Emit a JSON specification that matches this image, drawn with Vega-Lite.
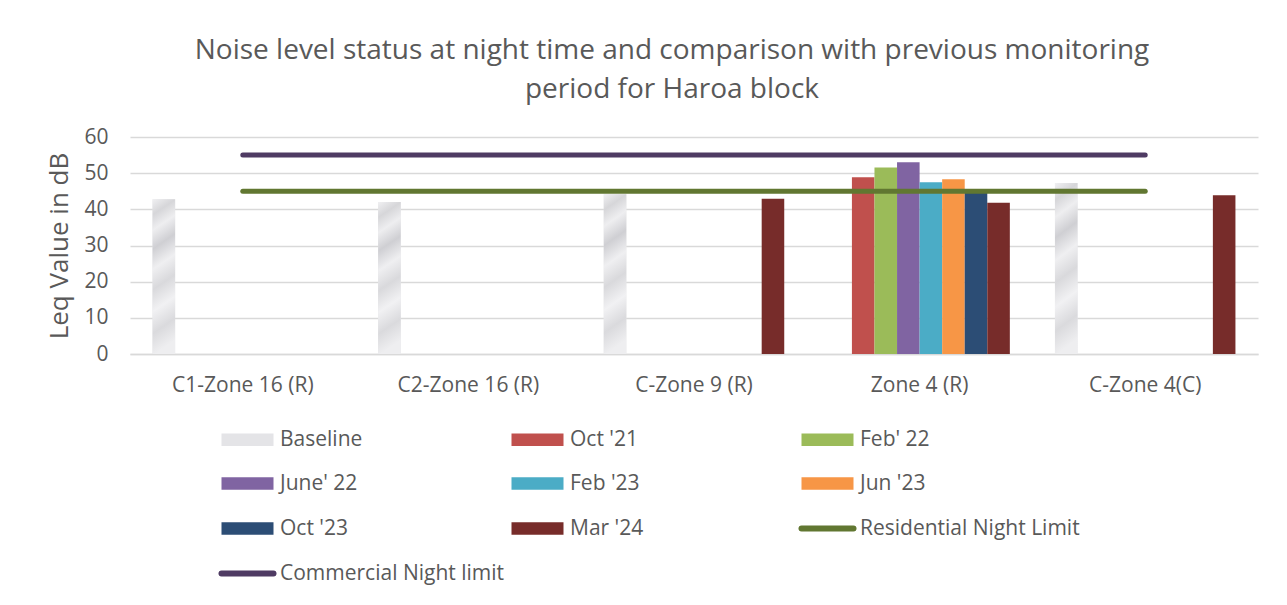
{
  "$schema": "https://vega.github.io/schema/vega-lite/v6.json",
  "width": 1128,
  "height": 217,
  "autosize": "none",
  "padding": {"left": 130, "top": 137, "right": 29, "bottom": 251},
  "background": "white",
  "title": {
    "text": ["Noise level status at night time and comparison with previous monitoring", "period for Haroa block"],
    "fontSize": 28,
    "font": "Open Sans",
    "fontWeight": "normal",
    "color": "#595959",
    "anchor": "middle",
    "dx": -22,
    "offset": 22,
    "lineHeight": 39
  },
  "datasets": {
    "bars": [
      {"site": "C1-Zone 16 (R)", "period": "Baseline", "leq": 42.8},
      {"site": "C2-Zone 16 (R)", "period": "Baseline", "leq": 42.0},
      {"site": "C-Zone 9 (R)", "period": "Baseline", "leq": 44.2},
      {"site": "C-Zone 9 (R)", "period": "Mar '24", "leq": 42.9},
      {"site": "Zone 4 (R)", "period": "Oct '21", "leq": 48.9},
      {"site": "Zone 4 (R)", "period": "Feb' 22", "leq": 51.6},
      {"site": "Zone 4 (R)", "period": "June' 22", "leq": 53.0},
      {"site": "Zone 4 (R)", "period": "Feb '23", "leq": 47.5},
      {"site": "Zone 4 (R)", "period": "Jun '23", "leq": 48.3},
      {"site": "Zone 4 (R)", "period": "Oct '23", "leq": 45.2},
      {"site": "Zone 4 (R)", "period": "Mar '24", "leq": 41.8},
      {"site": "C-Zone 4(C)", "period": "Baseline", "leq": 47.3},
      {"site": "C-Zone 4(C)", "period": "Mar '24", "leq": 43.9}
    ],
    "limits": [
      {"site": "C1-Zone 16 (R)", "period": "Residential Night Limit", "leq": 45},
      {"site": "C2-Zone 16 (R)", "period": "Residential Night Limit", "leq": 45},
      {"site": "C-Zone 9 (R)", "period": "Residential Night Limit", "leq": 45},
      {"site": "Zone 4 (R)", "period": "Residential Night Limit", "leq": 45},
      {"site": "C-Zone 4(C)", "period": "Residential Night Limit", "leq": 45},
      {"site": "C1-Zone 16 (R)", "period": "Commercial Night limit", "leq": 55},
      {"site": "C2-Zone 16 (R)", "period": "Commercial Night limit", "leq": 55},
      {"site": "C-Zone 9 (R)", "period": "Commercial Night limit", "leq": 55},
      {"site": "Zone 4 (R)", "period": "Commercial Night limit", "leq": 55},
      {"site": "C-Zone 4(C)", "period": "Commercial Night limit", "leq": 55}
    ]
  },
  "encoding": {
    "x": {
      "field": "site",
      "type": "nominal",
      "sort": ["C1-Zone 16 (R)", "C2-Zone 16 (R)", "C-Zone 9 (R)", "Zone 4 (R)", "C-Zone 4(C)"],
      "scale": {"domain": ["C1-Zone 16 (R)", "C2-Zone 16 (R)", "C-Zone 9 (R)", "Zone 4 (R)", "C-Zone 4(C)"], "paddingInner": 0.2, "paddingOuter": 0.1},
      "axis": {
        "title": null,
        "labelAngle": 0,
        "labelFont": "Open Sans",
        "labelFontSize": 21,
        "labelColor": "#595959",
        "labelPadding": 20,
        "ticks": false,
        "domain": true,
        "domainColor": "#D9D9D9",
        "domainWidth": 1.5,
        "grid": false
      }
    },
    "y": {
      "field": "leq",
      "type": "quantitative",
      "scale": {"domain": [0, 60]},
      "axis": {
        "title": "Leq Value in dB",
        "titleFont": "Open Sans",
        "titleFontSize": 26,
        "titleFontWeight": "normal",
        "titleColor": "#595959",
        "titlePadding": 11,
        "values": [0, 10, 20, 30, 40, 50, 60],
        "labelFont": "Open Sans",
        "labelFontSize": 21,
        "labelColor": "#595959",
        "labelPadding": 22,
        "ticks": false,
        "domain": false,
        "gridColor": "#D9D9D9",
        "gridWidth": 1.5
      }
    }
  },
  "layer": [
    {
      "data": {"name": "bars"},
      "mark": {"type": "bar"},
      "encoding": {
        "xOffset": {
          "field": "period",
          "type": "nominal",
          "scale": {"domain": ["Baseline", "Oct '21", "Feb' 22", "June' 22", "Feb '23", "Jun '23", "Oct '23", "Mar '24"], "paddingInner": 0, "paddingOuter": 0}
        },
        "color": {
          "field": "period",
          "type": "nominal",
          "scale": {
            "domain": ["Baseline", "Oct '21", "Feb' 22", "June' 22", "Feb '23", "Jun '23", "Oct '23", "Mar '24", "Residential Night Limit", "Commercial Night limit"],
            "range": ["#E4E4E7", "#C0504D", "#9BBB59", "#8064A2", "#4BACC6", "#F79646", "#2C4D75", "#772C2A", "#617731", "#4F3B63"]
          },
          "legend": {
            "title": null,
            "orient": "none",
            "legendX": 107,
            "legendY": 291,
            "direction": "horizontal",
            "columns": 3,
            "gridAlign": "all",
            "columnPadding": -6,
            "rowPadding": 20,
            "labelFont": "Open Sans",
            "labelFontSize": 21,
            "labelColor": "#595959",
            "labelOffset": 22,
            "labelLimit": 400,
            "symbolSize": 2704,
            "symbolType": "M-1,-0.24L1,-0.24L1,0.24L-1,0.24Z",
            "symbolStrokeWidth": 0,
            "encode": {
              "symbols": {
                "update": {
                  "shape": {"signal": "indexof(['Residential Night Limit','Commercial Night limit'], datum.value) >= 0 ? 'stroke' : 'M-1,-0.24L1,-0.24L1,0.24L-1,0.24Z'"},
                  "stroke": {"signal": "scale('color', datum.value)"},
                  "strokeWidth": {"signal": "indexof(['Residential Night Limit','Commercial Night limit'], datum.value) >= 0 ? 6 : 0"},
                  "strokeCap": {"value": "round"}
                }
              }
            }
          }
        }
      }
    },
    {
      "data": {"name": "bars"},
      "transform": [{"filter": "datum.period === 'Baseline'"}],
      "mark": {
        "type": "bar",
        "fill": {
          "gradient": "linear",
          "x1": 0, "y1": 0, "x2": 0.1, "y2": 1,
          "stops": [
            {"offset": 0, "color": "#F0F0F2"},
            {"offset": 0.1, "color": "#D6D6D9"},
            {"offset": 0.2, "color": "#EEEEF0"},
            {"offset": 0.32, "color": "#CFCFD3"},
            {"offset": 0.45, "color": "#EFEFF1"},
            {"offset": 0.58, "color": "#D9D9DC"},
            {"offset": 0.72, "color": "#F1F1F3"},
            {"offset": 0.86, "color": "#DADADD"},
            {"offset": 1, "color": "#EEEEF0"}
          ]
        }
      },
      "encoding": {
        "xOffset": {
          "field": "period",
          "type": "nominal"
        }
      }
    },
    {
      "data": {"name": "limits"},
      "mark": {"type": "line", "strokeWidth": 5, "strokeCap": "round"},
      "encoding": {
        "color": {"field": "period", "type": "nominal"},
        "detail": {"field": "period"}
      }
    }
  ],
  "config": {
    "view": {"stroke": null}
  }
}
